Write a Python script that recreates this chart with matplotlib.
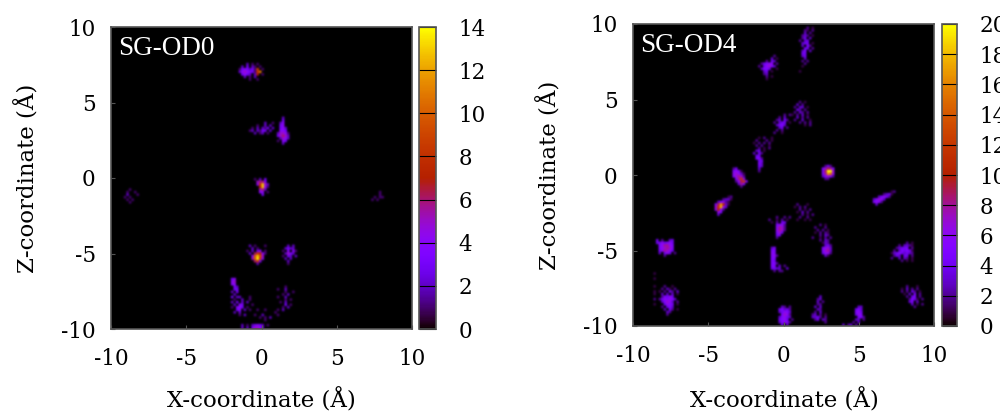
#!/usr/bin/env python3
"""SG-OD0 / SG-OD4 density maps in the XZ plane, gnuplot style."""

import matplotlib
matplotlib.use('Agg')
import matplotlib.pyplot as plt
import numpy as np

plt.rcParams.update({
    'font.family': 'DejaVu Serif',
    'font.size': 15.5,
    'axes.edgecolor': '#555555',
    'axes.linewidth': 1.2,
    'axes.unicode_minus': False,
})

W, H = 1000, 412
CELL = 0.17  # A per bin

TICKS = [-10, -5, 0, 5, 10]
CBAR_TICKS_OD0 = [0, 2, 4, 6, 8, 10, 12, 14]
CBAR_TICKS_OD4 = [0, 2, 4, 6, 8, 10, 12, 14, 16, 18, 20]

# each patch: centre x, centre z, rows of bin counts (base 36, '.' = empty)
OD0_X = [-0.72, 0.0, 1.4, 0.05, -0.3, 1.9, -1.8, -1.3, -0.35, -8.6, 7.85, 1.7, 0.3]
OD0_Z = [7.1, 3.4, 3.2, -0.6, -5.0, -5.0, -7.2, -8.5, -9.75, -1.2, -1.1, -8.0, -9.0]
OD0_CELLS = [
    ["...2.1.1..", ".2.3.21.1.", "13432319.1", "24543318b.", ".3432.27.1", "..2.1.2...", "....1..1.."],
    ["......2..1", "...1..2.2.", ".1.2.213.2", "12.2133.2.", "..2.12.1.."],
    ["..2..", "..3..", ".24..", ".34..", ".342.", ".443.", "25541", "35652", ".2542", "1.43.", "..2.."],
    ["1.2.3.", ".5663.", ".48d52", "..7d41", "..562.", "..44.1", "...3.."],
    [".2.1...1.", "..2.1....", "1.2.34.1.", ".2.68741.", "..4ad95..", "..5ae84..", "...683...", "....2...."],
    ["..2.2.", ".2322.", "1.4.41", ".2532.", "1.32.2", ".2.2..", "..2...", "..1..."],
    ["34.", "45.", "44.", ".32", ".33", "2.3", ".2.", "3.2"],
    ["...2...1.", ".1..2..1.", "2.3.2.2..", ".2.43...1", "1.443.1..", "..34.2.1.", ".2.2.....", "...1.2..."],
    ["2.1.23432.1", "2.2.35542.."],
    ["..1...", ".1..1.", ".2...1", "1.1...", ".1.1..", "..1..."],
    ["...1..", "...1..", ".1.11.", "1.1..."],
    ["...1...", "1..2...", "...1..1", "..1.2..", "1..2...", "...1.1.", ".1.2...", "...3.1.", "..1.2..", "1.2...."],
    ["..1..1.....", ".........1.", ".1..2.....1", "...1.1.2...", ".....1....."],
]

OD4_X = [-1.03, 1.6, 1.3, -0.1, -1.36, -2.87, -4.0, 3.0, 6.6, -0.14, 1.4, 2.6, 3.0,
         -0.37, -7.83, 8.0, -7.6, 8.56, 0.12, 2.4, 5.06, 4.6, -8.6]
OD4_Z = [7.2, 8.4, 4.1, 3.35, 1.35, -0.2, -2.0, 0.2, -1.5, -3.4, -2.5, -3.9, -4.9,
         -5.5, -4.8, -5.15, -8.35, -8.1, -9.4, -8.9, -9.2, -9.9, -7.6]
OD4_CELLS = [
    ["......2.", ".....3.1", "...2.43.", ".24566.2", "2.46753.", ".3554..1", "..34.1..", "..23....", "...2.1..", "...1...."],
    ["...2.1", "..21.2", "..3.2.", ".232.1", ".24.3.", "2.34..", ".344.1", ".3.52.", "..44.2", ".35.3.", ".44...", ".34...", "..3...", ".2.2..", "..2...", ".1....", "......", "1....."],
    ["...2.1..", "..3.2...", ".2.33.1.", "..42.2..", ".2.32.2.", "1.2.3.1.", "..3.2.2.", ".2..3..1", "...2.2.2", ".....1.2"],
    ["....2.2", "..2.3..", ".23.42.", "2.344.1", ".3453..", "..34.2.", ".2.2...", "2..1..."],
    ["..1.2..1", ".2...2.1", "1.2.2.2.", ".2.2..1.", "..2.1.2.", ".34.1...", "3.42....", ".44.....", ".552....", "..44....", "..53....", "..43....", "..3.....", "..2....."],
    [".24.....", ".5651...", ".67631..", ".57872..", "..58c6..", "..269c5.", "...385..", "....2..."],
    ["......12", "....2331", "..35621.", ".59ha31.", ".7bi63..", ".6a62...", "..65....", "..3....."],
    ["..242..", ".57985.", ".59kk7.", ".58hf6.", ".35752.", "..22..."],
    ["........12", ".....2341.", "...35642..", ".35763....", ".5652.....", "..3......."],
    ["...2..2.2", "2..1.2.1.", ".1.2.44..", "...5662..", "...6872..", "...6872..", "...574...", "...45....", "...2....."],
    [".2...1..", "1.2.2...", "..2.1.2.", ".1.3.2..", "...2.1.2", "..2..2..", ".1..1.1."],
    ["...2.1..", ".2...2..", "..2.2.1.", ".1.2.21.", "...2.32.", "2..1.2.2", "...2.32.", "....13.."],
    ["...2...", "..342..", ".5673..", ".5783..", ".4662..", "..31..."],
    [".35.....", ".55.....", ".65.....", ".562....", ".55.....", ".54.....", ".552....", ".55.3.2.", ".4433..3", "..2.22.."],
    ["4.2..34.", "4464564.", ".568865.", ".567875.", ".468764.", ".3.464.2", "...2...."],
    ["......2.1.", "...2.3321.", "..23445.2.", ".2.354541.", "134543432.", ".243.44.2.", "2..3.32.1.", "....2.1.1."],
    ["..2..1..", ".2.31.2.", "1.2.42.3.", ".3.3.3.1", ".25464..", "2465653.", ".35763.2", "..4654.1", ".2.453..", "..3.42.1", "...32...", "...2...."],
    ["..2...1..", "1.3.2.2..", "2.2.42.1.", ".1.3.5.2.", "..2.45.2.", "...2541.2", "...35.3..", "....3.1.2", ".....2..."],
    ["..32.2..", ".45342..", ".34653..", "..5762..", ".35643..", ".4564.2.", ".35652..", "..4.3..."],
    ["....3...", "...23...", "...3.2..", "...22...", "..3.3...", "...32...", "..2.3...", ".23.2.1.", ".3342.2.", "..24.32.", "......2."],
    ["...33...", "..453...", "..564...", "..465...", "...552..", "..33.2.."],
    ["....2.3.", "2.33.2..", "3.2....."],
    ["1", ".", "1", ".", ".", "1", ".", "1", "1", ".", "2", ".", "1"],
]


def build_grid(xs, zs, patches):
    """Drop the patches into a 20 x 20 A grid of bins."""
    n = int(round(20 / CELL))
    grid = np.zeros((n, n))
    for cx, cz, rows in zip(xs, zs, patches):
        for r, row in enumerate(rows):
            for c, ch in enumerate(row):
                if ch == '.':
                    continue
                x = cx + (c - (len(row) - 1) / 2) * CELL
                z = cz - (r - (len(rows) - 1) / 2) * CELL
                i = int((z + 10) / CELL)
                j = int((x + 10) / CELL)
                if 0 <= i < n and 0 <= j < n:
                    grid[i, j] = int(ch, 36)
    return grid


def px_axes(fig, x0, y0, x1, y1):
    return fig.add_axes([x0 / W, 1 - y1 / H, (x1 - x0) / W, (y1 - y0) / H])


def panel(fig, box, cbox, grid, vmax, cticks, name, name_xy, xlabel_x, ylabel_x, ylabel_y):
    ax = px_axes(fig, *box)
    im = ax.imshow(grid, origin='lower', extent=[-10, 10, -10, 10], cmap='gnuplot',
                   vmin=0, vmax=vmax, interpolation='gaussian', aspect='auto')
    ax.set_xticks(TICKS)
    ax.set_yticks(TICKS)
    ax.tick_params(direction='in', length=3, width=0.8, color='#555555')
    ax.tick_params(axis='x', pad=14)
    ax.tick_params(axis='y', pad=11)
    ax.text(name_xy[0], name_xy[1], name, color='white', fontsize=19.5,
            family='Liberation Serif', ha='left', va='center')

    cax = px_axes(fig, *cbox)
    cb = fig.colorbar(im, cax=cax, ticks=cticks)
    cb.outline.set_edgecolor('#555555')
    cb.ax.tick_params(direction='in', length=(cbox[2] - cbox[0]) * 0.72, width=0.8,
                      color='black', pad=16)

    fig.text(xlabel_x / W, 1 - 400 / H, 'X-coordinate (Å)', ha='center', va='center', fontsize=16.5)
    fig.text(ylabel_x / W, 1 - ylabel_y / H, 'Z-coordinate (Å)',
             ha='center', va='center', rotation=90, fontsize=16.5)


fig = plt.figure(figsize=(W / 100, H / 100), dpi=100)

panel(fig, (111, 27, 412, 329), (419, 27, 436, 329),
      build_grid(OD0_X, OD0_Z, OD0_CELLS), 14, CBAR_TICKS_OD0,
      'SG-OD0', (-9.55, 8.55), 261, 27, 178)
panel(fig, (633, 24, 934, 326), (942, 24, 957, 326),
      build_grid(OD4_X, OD4_Z, OD4_CELLS), 20, CBAR_TICKS_OD4,
      'SG-OD4', (-9.5, 8.55), 784, 549, 175)

fig.savefig('out.png', dpi=100)
plt.close(fig)
